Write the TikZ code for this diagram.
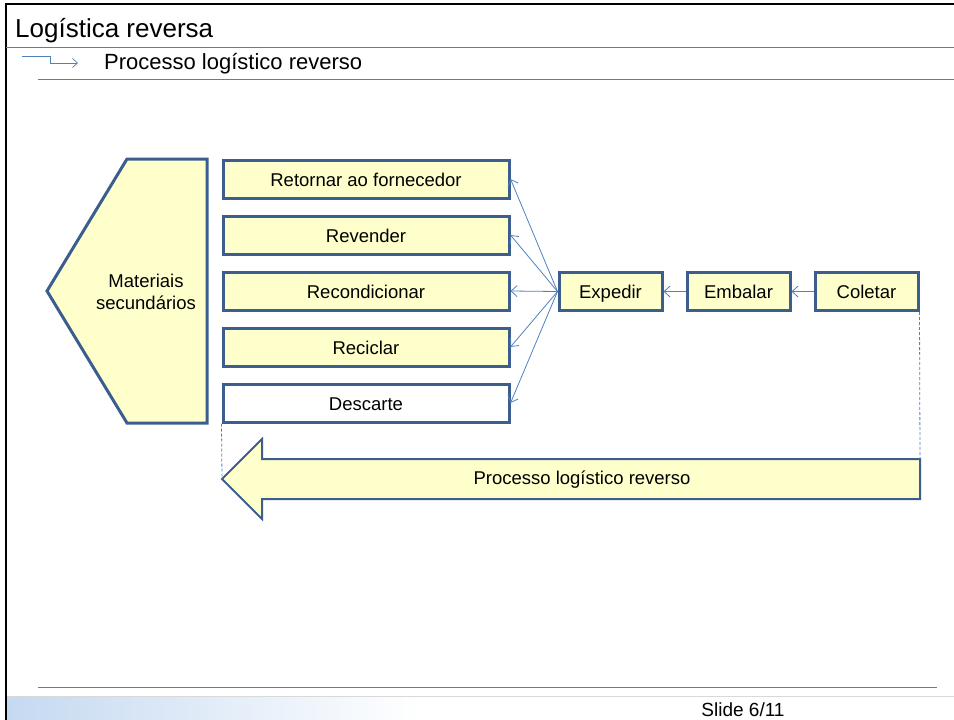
\documentclass[tikz,border=0pt]{standalone}
\usepackage{fontspec}
\setmainfont{Liberation Sans}
\usetikzlibrary{arrows.meta}
\definecolor{borda}{HTML}{3B5E8F}
\definecolor{azul}{HTML}{4F81BD}
\definecolor{creme}{HTML}{FFFFCC}
\definecolor{faixa}{HTML}{C5D9F1}
\def\txt{\fontsize{18.5}{22}\selectfont}

\begin{document}
\begin{tikzpicture}[x=1pt,y=-1pt,
  caixa/.style={draw=borda, line width=3pt, fill=creme, minimum width=286pt, minimum height=38pt, font=\txt, inner sep=0pt, text height=17pt, text depth=3pt},
  etapa/.style={caixa, minimum width=103pt},
  seta/.style={draw=azul, line width=0.8pt, -{Straight Barb[length=6pt,width=11pt]}},
  guia/.style={draw=azul, line width=0.8pt, dash pattern=on 3pt off 2pt}]
\useasboundingbox (0,0) rectangle (954,720);

% moldura e cabecalho
\draw[line width=2.5pt] (6,720) -- (6,4) -- (954,4);
\node[anchor=base west, font=\fontsize{26}{30}\selectfont, inner sep=0pt] (titulo) at (15,37) {Logística reversa};
\draw[azul, line width=0.8pt] (6,47.5) -- (954,47.5);
\draw[azul, line width=0.7pt, -{Straight Barb[length=5pt,width=9pt]}] (22,56.5) -- (50,56.5) -- (50,63) -- (78,63);
\node[anchor=base west, font=\fontsize{22}{26}\selectfont, inner sep=0pt] (sub) at (104,69) {Processo logístico reverso};
\draw[azul, line width=0.8pt] (38,79) -- (954,79);

% rodape
\draw[azul, line width=0.8pt] (38,687) -- (937,687);
\shade[left color=faixa, right color=white] (7,697) rectangle (420,720);
\draw[black!15, line width=1pt] (7,696) -- (954,696);
\node[font=\fontsize{19}{22}\selectfont, inner sep=0pt] (slide) at (743,710) {Slide 6/11};

% materiais secundarios
\coordinate (M1) at (47,291);
\coordinate (M2) at (127,159);
\coordinate (M3) at (207,159);
\coordinate (M4) at (207,423);
\coordinate (M5) at (127,423);
\draw[draw=borda, line width=3pt, fill=creme] (M1) -- (M2) -- (M3) -- (M4) -- (M5) -- cycle;
\node[font=\txt, align=center] (mat) at (146,292) {Materiais\\secundários};

% destinos
\foreach \n/\y/\t in {ret/179/Retornar ao fornecedor, rev/235/Revender, rcd/291/Recondicionar, rcc/347/Reciclar}{
	\node[caixa] (\n) at (366,\y) {\t};
}
\node[caixa, fill=white] (desc) at (366,403) {Descarte};

% etapas
\node[etapa] (exp) at (610.5,291.5) {Expedir};
\node[etapa] (emb) at (738.5,291.5) {Embalar};
\node[etapa] (col) at (866.5,291.5) {Coletar};

\draw[seta] (col) -- (emb);
\draw[seta] (emb) -- (exp);
\foreach \n in {ret, rev, rcd, rcc, desc}{
	\draw[seta] (exp.west) -- (\n.east);
}

% seta do processo
\coordinate (P1) at (222,479);
\coordinate (P2) at (262,439);
\coordinate (P3) at (262,459);
\coordinate (P4) at (920,459);
\coordinate (P5) at (920,499);
\coordinate (P6) at (262,499);
\coordinate (P7) at (262,519);
\draw[draw=borda, line width=2pt, fill=creme] (P1) -- (P2) -- (P3) -- (P4) -- (P5) -- (P6) -- (P7) -- cycle;
\node[font=\txt] (proc) at (582,480) {Processo logístico reverso};

\draw[guia] (desc.south west) -- (P1);
\draw[guia] (col.south east) -- (P4);
\end{tikzpicture}
\end{document}
